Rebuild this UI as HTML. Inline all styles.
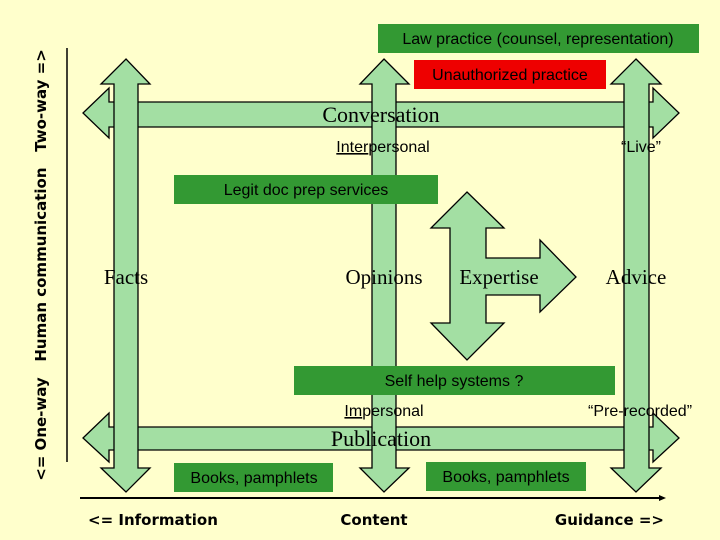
<!DOCTYPE html>
<html><head><style>
html,body{margin:0;padding:0;background:#ffffcc;}
svg{display:block;}
.hw{font-family:"Liberation Sans Narrow","Liberation Sans",sans-serif;font-size:16px;fill:#000;}
.sr{font-family:"Liberation Serif",serif;fill:#000;}
.bl{font-family:"DejaVu Sans","Liberation Sans",sans-serif;font-weight:bold;font-size:15px;fill:#000;}
</style></head><body>
<svg width="720" height="540" viewBox="0 0 720 540" xmlns="http://www.w3.org/2000/svg">
<rect width="720" height="540" fill="#ffffcc"/>
<g fill="#a3dfa3" stroke="#000" stroke-width="1.3" stroke-linejoin="miter">
<!-- horizontal arrows -->
<polygon points="83,113 109,88 109,102 653,102 653,88 679,113 653,138 653,127 109,127 109,138"/>
<polygon points="83,438 109,413 109,427 653,427 653,413 679,438 653,462 653,450 109,450 109,462"/>
<!-- vertical arrows -->
<polygon points="126,59 150,84 138,84 138,468 150,468 126,492 101,468 114,468 114,84 101,84"/>
<polygon points="384,59 409,84 396,84 396,468 409,468 384,492 360,468 372,468 372,84 360,84"/>
<polygon points="636,59 661,84 649,84 649,468 661,468 636,492 611,468 624,468 624,84 611,84"/>
<!-- expertise cross -->
<polygon points="467,192 504,228 486,228 486,258 540,258 540,240 576,277 540,312 540,295 486,295 486,323 504,323 467,360 431,323 450,323 450,228 431,228"/>
</g>
<!-- boxes -->
<rect x="378" y="24" width="321" height="29" fill="#339933"/>
<rect x="414" y="60" width="192" height="29" fill="#ee0000"/>
<rect x="174" y="175" width="264" height="29" fill="#339933"/>
<rect x="294" y="366" width="321" height="29" fill="#339933"/>
<rect x="174" y="463" width="159" height="29" fill="#339933"/>
<rect x="426" y="462" width="160" height="29" fill="#339933"/>
<!-- box texts -->
<text class="hw" x="538" y="44" text-anchor="middle">Law practice (counsel, representation)</text>
<text class="hw" x="510" y="80" text-anchor="middle">Unauthorized practice</text>
<text class="hw" x="306" y="195" text-anchor="middle">Legit doc prep services</text>
<text class="hw" x="454" y="386" text-anchor="middle">Self help systems ?</text>
<text class="hw" x="254" y="483" text-anchor="middle">Books, pamphlets</text>
<text class="hw" x="506" y="482" text-anchor="middle">Books, pamphlets</text>
<!-- labels -->
<text class="sr" x="381" y="122" font-size="22" text-anchor="middle">Conversation</text>
<text class="sr" x="381" y="446" font-size="22" text-anchor="middle">Publication</text>
<text class="sr" x="126" y="284" font-size="21" text-anchor="middle">Facts</text>
<text class="sr" x="384" y="284" font-size="21" text-anchor="middle">Opinions</text>
<text class="sr" x="499" y="284" font-size="21" text-anchor="middle">Expertise</text>
<text class="sr" x="636" y="284" font-size="21" text-anchor="middle">Advice</text>
<text class="hw" x="383" y="152" text-anchor="middle"><tspan text-decoration="underline">Inter</tspan>personal</text>
<text class="hw" x="641" y="152" text-anchor="middle">“Live”</text>
<text class="hw" x="384" y="416" text-anchor="middle"><tspan text-decoration="underline">Im</tspan>personal</text>
<text class="hw" x="640" y="416" text-anchor="middle">“Pre-recorded”</text>
<!-- timeline -->
<line x1="80" y1="498" x2="662" y2="498" stroke="#000" stroke-width="2"/>
<polygon points="666,498 659,495 659,501" fill="#000"/>
<line x1="67" y1="48" x2="67" y2="462" stroke="#000" stroke-width="1.5"/>
<text class="bl" x="88" y="525">&lt;= Information</text>
<text class="bl" x="374" y="525" text-anchor="middle">Content</text>
<text class="bl" x="664" y="525" text-anchor="end">Guidance =&gt;</text>
<text class="bl" transform="translate(46,265) rotate(-90)" text-anchor="middle" font-weight="normal" font-size="15" xml:space="preserve">&lt;= One-way   Human communication   Two-way =&gt;</text>
</svg>
</body></html>
